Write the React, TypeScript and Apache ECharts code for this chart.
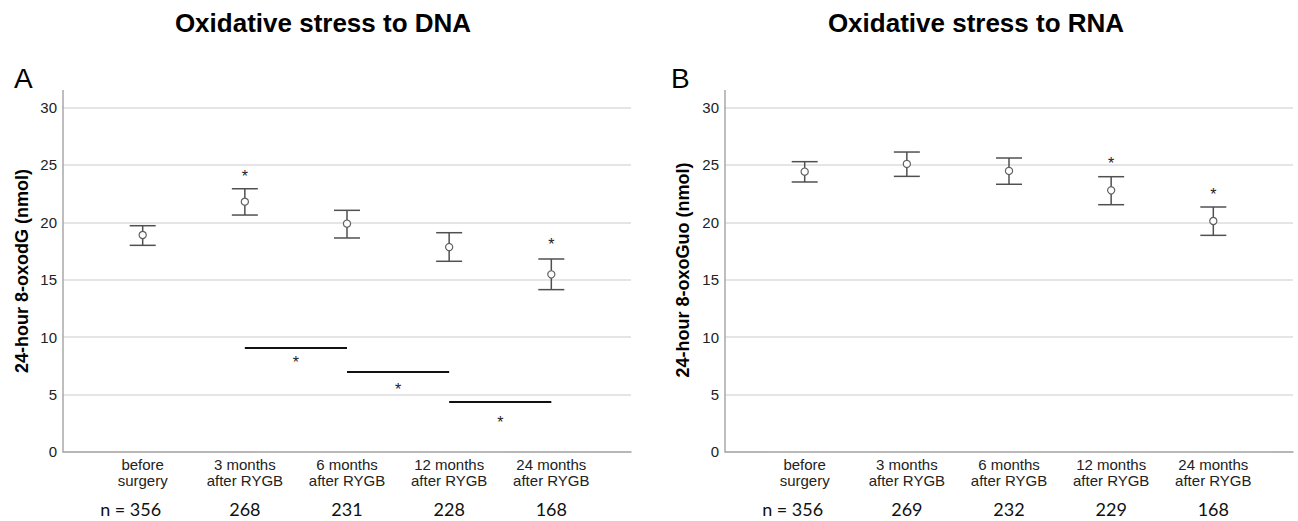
import React, { useEffect, useRef } from "react";
import * as echarts from "echarts";

// ---- Data ----
const categories = ["before\nsurgery", "3 months\nafter RYGB", "6 months\nafter RYGB", "12 months\nafter RYGB", "24 months\nafter RYGB"];
const dnaN = ["n = 356", "268", "231", "228", "168"];
const rnaN = ["n = 356", "269", "232", "229", "168"];

const dnaMean = [18.89, 21.79, 19.88, 17.84, 15.46];
const dnaLow = [17.99, 20.63, 18.63, 16.6, 14.13];
const dnaHigh = [19.7, 22.92, 21.04, 19.09, 16.8];
const dnaStar = [null, 24.3, null, null, 18.4];

const rnaMean = [24.41, 25.08, 24.47, 22.78, 20.11];
const rnaLow = [23.51, 24.0, 23.31, 21.53, 18.86];
const rnaHigh = [25.28, 26.12, 25.6, 23.97, 21.33];
const rnaStar = [null, null, null, 25.5, 22.8];

// pairwise comparisons (from index, to index, bar value, asterisk value)
const dnaPairs = [
  [1, 2, 9.04, 8.09],
  [2, 3, 6.96, 5.74],
  [3, 4, 4.35, 2.94],
];

const yTicks = [0, 5, 10, 15, 20, 25, 30];

const FONT = "'Liberation Sans', Arial, sans-serif";
const BAR_COLOR = "#505050";
const AXIS_COLOR = "#a8a8a8";
const GRID_COLOR = "#dcdcdc";

const X_MIN = -0.78;
const X_MAX = 4.78;

function errorData(low: number[], high: number[], mean: number[]) {
  return mean.map((m, i) => [i, low[i], high[i], m]);
}
function starData(stars: (number | null)[]) {
  return stars.map((s, i) => (s == null ? null : [i, s])).filter((d) => d) as number[][];
}

const errorRender = (params: any, api: any) => {
  const x = api.value(0);
  const pLo = api.coord([x, api.value(1)]);
  const pHi = api.coord([x, api.value(2)]);
  const pM = api.coord([x, api.value(3)]);
  const hw = 13;
  const style = { stroke: BAR_COLOR, lineWidth: 1.5, fill: null };
  return {
    type: "group",
    children: [
      { type: "line", shape: { x1: pLo[0], y1: pLo[1], x2: pHi[0], y2: pHi[1] }, style },
      { type: "line", shape: { x1: pLo[0] - hw, y1: pLo[1], x2: pLo[0] + hw, y2: pLo[1] }, style },
      { type: "line", shape: { x1: pHi[0] - hw, y1: pHi[1], x2: pHi[0] + hw, y2: pHi[1] }, style },
      { type: "circle", shape: { cx: pM[0], cy: pM[1], r: 3.6 }, style: { fill: "#fff", stroke: "#606060", lineWidth: 1.2 } },
    ],
  };
};

const starRender = (params: any, api: any) => {
  const p = api.coord([api.value(0), api.value(1)]);
  return {
    type: "text",
    x: p[0],
    y: p[1] + 4,
    style: { text: "*", fontSize: 16, fontFamily: FONT, fill: "#222", align: "center", verticalAlign: "middle" },
  };
};

const pairRender = (params: any, api: any) => {
  const a = api.coord([api.value(0), api.value(2)]);
  const b = api.coord([api.value(1), api.value(2)]);
  const s = api.coord([(api.value(0) + api.value(1)) / 2, api.value(3)]);
  return {
    type: "group",
    children: [
      { type: "line", shape: { x1: a[0], y1: a[1], x2: b[0], y2: b[1] }, style: { stroke: "#111", lineWidth: 2 } },
      {
        type: "text",
        x: s[0],
        y: s[1] + 4,
        style: { text: "*", fontSize: 16, fontFamily: FONT, fill: "#222", align: "center", verticalAlign: "middle" },
      },
    ],
  };
};

function xAxisFor(gridIndex: number, nLabels: string[]) {
  return {
    gridIndex,
    type: "value",
    min: X_MIN,
    max: X_MAX,
    axisLine: { show: true, onZero: false, lineStyle: { color: AXIS_COLOR, width: 1.5 } },
    axisTick: { show: false },
    splitLine: { show: false },
    axisLabel: {
      customValues: [0, 1, 2, 3, 4],
      margin: 5,
      formatter: (v: number) => {
        const i = Math.round(v);
        const [l1, l2] = categories[i].split("\n");
        const nStyle = i === 0 ? "n0" : "n";
        return `{c|${l1}}\n{c|${l2}}\n{${nStyle}|${nLabels[i]}}`;
      },
      rich: {
        c: { fontSize: 15, lineHeight: 16, fontFamily: FONT, color: "#222", align: "center" },
        n: { fontSize: 18, lineHeight: 40, fontFamily: "Lato, 'Open Sans', sans-serif", color: "#111", align: "center" },
        n0: { fontSize: 18, lineHeight: 40, fontFamily: "Lato, 'Open Sans', sans-serif", color: "#111", align: "center", padding: [0, 24, 0, 0] },
      },
    },
  };
}

function yAxisFor(gridIndex: number) {
  return {
    gridIndex,
    type: "value",
    min: 0,
    max: 30,
    interval: 5,
    axisLine: { show: true, onZero: false, lineStyle: { color: AXIS_COLOR, width: 1.5 } },
    axisTick: { show: false },
    splitLine: { show: true, lineStyle: { color: GRID_COLOR, width: 1.5 } },
    axisLabel: {
      margin: 6,
      fontSize: 15,
      fontFamily: FONT,
      color: "#222",
      formatter: (v: number) => (yTicks.includes(v) ? String(v) : ""),
    },
  };
}

export default function App() {
  const ref = useRef<HTMLDivElement>(null);
  useEffect(() => {
    if (!ref.current) return;
    const chart = echarts.init(ref.current, undefined, { renderer: "svg" });
    const option: any = {
      animation: false,
      backgroundColor: "#fff",
      grid: [
        { left: 63, top: 107.5, width: 568, height: 344.3 },
        { left: 725, top: 107.5, width: 568, height: 344.3 },
      ],
      xAxis: [xAxisFor(0, dnaN), xAxisFor(1, rnaN)],
      yAxis: [yAxisFor(0), yAxisFor(1)],
      series: [
        { type: "custom", xAxisIndex: 0, yAxisIndex: 0, renderItem: errorRender, data: errorData(dnaLow, dnaHigh, dnaMean), clip: false },
        { type: "custom", xAxisIndex: 0, yAxisIndex: 0, renderItem: starRender, data: starData(dnaStar), clip: false },
        { type: "custom", xAxisIndex: 0, yAxisIndex: 0, renderItem: pairRender, data: dnaPairs, clip: false },
        { type: "custom", xAxisIndex: 1, yAxisIndex: 1, renderItem: errorRender, data: errorData(rnaLow, rnaHigh, rnaMean), clip: false },
        { type: "custom", xAxisIndex: 1, yAxisIndex: 1, renderItem: starRender, data: starData(rnaStar), clip: false },
      ],
      graphic: [
        { type: "text", x: 323, y: 23, style: { text: "Oxidative stress to DNA", fontSize: 26, fontWeight: "bold", fontFamily: FONT, fill: "#000", align: "center", verticalAlign: "middle" } },
        { type: "text", x: 976, y: 23, style: { text: "Oxidative stress to RNA", fontSize: 26, fontWeight: "bold", fontFamily: FONT, fill: "#000", align: "center", verticalAlign: "middle" } },
        { type: "text", x: 14, y: 78, style: { text: "A", fontSize: 28, fontFamily: FONT, fill: "#000", align: "left", verticalAlign: "middle" } },
        { type: "text", x: 671, y: 78, style: { text: "B", fontSize: 28, fontFamily: FONT, fill: "#000", align: "left", verticalAlign: "middle" } },
        { type: "text", x: 22, y: 271, rotation: Math.PI / 2, style: { text: "24-hour 8-oxodG (nmol)", fontSize: 18, fontWeight: "bold", fontFamily: FONT, fill: "#000", align: "center", verticalAlign: "middle" } },
        { type: "text", x: 683, y: 270, rotation: Math.PI / 2, style: { text: "24-hour 8-oxoGuo (nmol)", fontSize: 18, fontWeight: "bold", fontFamily: FONT, fill: "#000", align: "center", verticalAlign: "middle" } },
        { type: "line", shape: { x1: 63, y1: 90, x2: 63, y2: 108 }, style: { stroke: AXIS_COLOR, lineWidth: 1.5 } },
        { type: "line", shape: { x1: 725, y1: 90, x2: 725, y2: 108 }, style: { stroke: AXIS_COLOR, lineWidth: 1.5 } },
      ],
    };
    chart.setOption(option);
    return () => chart.dispose();
  }, []);
  return <div ref={ref} style={{ position: "fixed", left: 0, top: 0, width: 1298, height: 521 }} />;
}
